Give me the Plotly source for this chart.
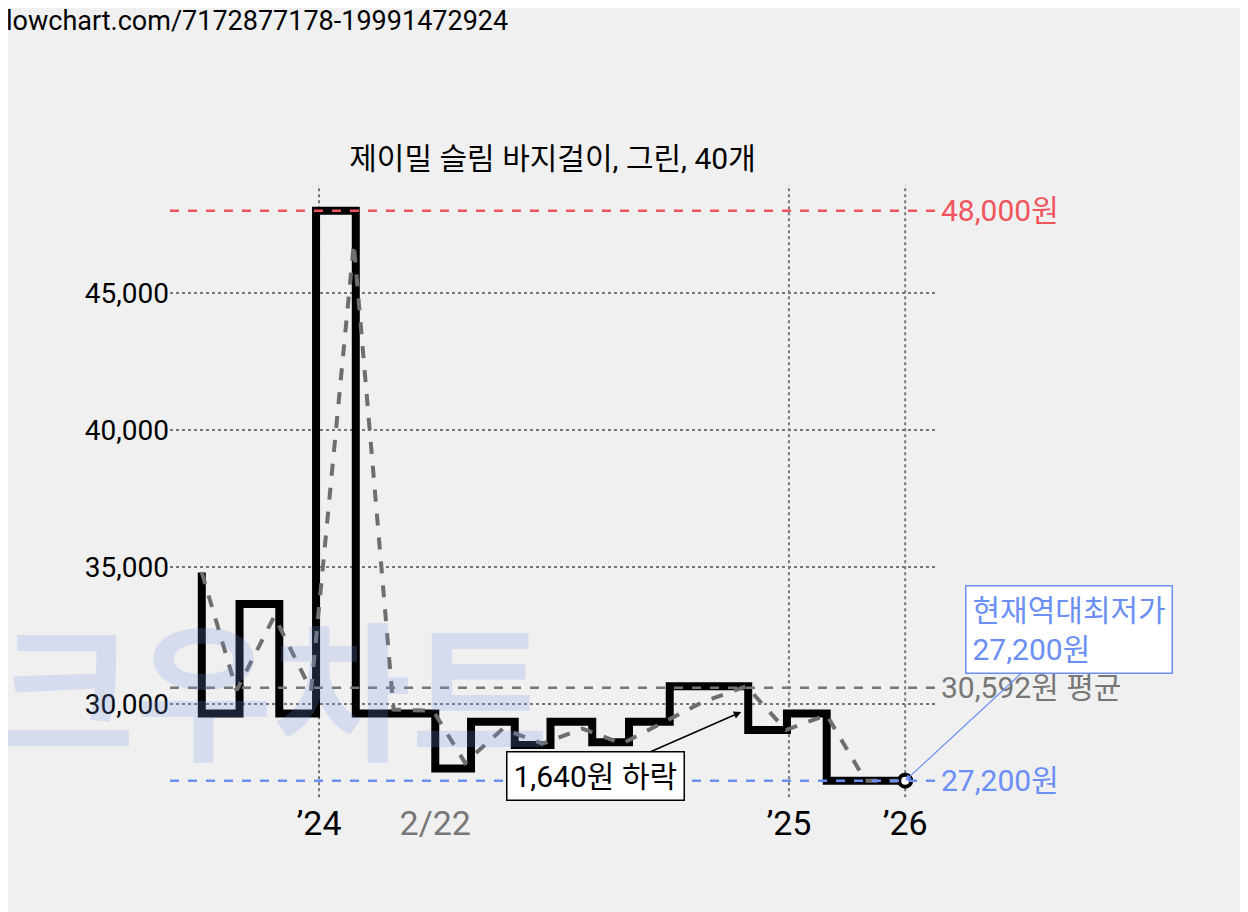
import plotly.graph_objects as go

# step price line (x in chart units, y in won)
step_x = [197,197,235,235,275,275,312,312,352,352,432,432,468,468,512,512,548,548,590,590,627,627,668,668,747,747,786,786,826,826,905]
step_y = [34800,29650,29650,33650,33650,29650,29650,48000,48000,29650,29650,27650,27650,29350,29350,28500,28500,29350,29350,28600,28600,29350,29350,30650,30650,29050,29050,29650,29650,27200,27200]
avg_x = [197,232,270,307,350,390,430,462,500,540,580,620,660,700,745,785,826,865,905]
avg_y = [34800,30500,33200,30500,46800,29800,29750,27850,29100,28550,29100,28550,29300,30050,30650,29050,29600,27200,27200]
max_price, min_price, mean_price = 48000, 27200, 30592
yticks = [30000, 35000, 40000, 45000]
xtick_vals = [315, 432, 788, 905]
xtick_text = ["’24", "<span style='color:#777'>2/22</span>", "’25", "’26"]
vgrid = [315, 788, 905]

fig = go.Figure()
for v in vgrid:
    fig.add_shape(type="line", x0=v, x1=v, y0=26600, y1=48950, line=dict(color="#777", width=2, dash="dot"), layer="below")
for v, c in [(max_price, "#f0545c"), (min_price, "#6b8ff5"), (mean_price, "#777")]:
    fig.add_shape(type="line", x0=165, x1=935, y0=v, y1=v, line=dict(color=c, width=2.5, dash="dash"))
fig.add_trace(go.Scatter(x=step_x, y=step_y, mode="lines", line=dict(color="black", width=8), hoverinfo="skip"))
fig.add_trace(go.Scatter(x=avg_x, y=avg_y, mode="lines", line=dict(color="#6e6e6e", width=4, dash="dash"), hoverinfo="skip"))
fig.add_trace(go.Scatter(x=[step_x[-1]], y=[step_y[-1]], mode="markers",
                         marker=dict(color="white", size=12, line=dict(color="black", width=4)), hoverinfo="skip"))

F = "Roboto, Noto Sans CJK KR"
fig.add_annotation(x=0.0, y=30000, xref="paper", yref="y", text="<b>크우차트</b>", showarrow=False,
                   font=dict(size=150, color="rgba(120,150,230,0.22)", family="Noto Sans CJK KR"),
                   xanchor="left", yanchor="middle", xshift=-175, yshift=20)
for v, t, c in [(max_price, "48,000원", "#f0545c"), (min_price, "27,200원", "#6b8ff5"), (mean_price, "30,592원 평균", "#777")]:
    fig.add_annotation(x=1.0, xref="paper", y=v, text=t, showarrow=False, xanchor="left", xshift=4,
                       font=dict(size=30, color=c, family=F))
fig.add_annotation(x=905, y=min_price, ax=1070, ay=32737, axref="x", ayref="y",
                   text="현재역대최저가<br>27,200원", showarrow=True, arrowhead=2, arrowcolor="#6b8ff5", arrowwidth=1.2,
                   align="left", bgcolor="white", bordercolor="#6b8ff5", borderwidth=1.5, borderpad=6,
                   font=dict(size=30, color="#6b8ff5", family=F))
fig.add_annotation(x=740, y=29708, ax=593, ay=27372, axref="x", ayref="y",
                   text="1,640원 하락", showarrow=True, arrowhead=2, arrowcolor="black", arrowwidth=1.5,
                   bgcolor="white", bordercolor="black", borderwidth=1.5, borderpad=6,
                   font=dict(size=30, color="black", family=F))
fig.add_annotation(x=0, y=1, xref="paper", yref="paper", text="lowchart.com/7172877178-19991472924", showarrow=False,
                   xanchor="left", yanchor="top", xshift=-166, yshift=182, font=dict(size=27, color="black", family=F))

fig.update_layout(
    width=1248, height=912, paper_bgcolor="#f0f0f0", plot_bgcolor="#f0f0f0", showlegend=False,
    margin=dict(l=162, r=321, t=177, b=120),
    title=dict(text="제이밀 슬림 바지걸이, 그린, 40개", x=0.5, xref="paper", y=0.835, yanchor="middle",
               font=dict(size=30, color="black", family=F)),
    xaxis=dict(range=[165, 935], showgrid=False, zeroline=False, tickvals=xtick_vals, ticktext=xtick_text,
               ticks="", tickfont=dict(size=34, color="black", family=F), showline=False),
    yaxis=dict(range=[26496, 48942], tickvals=yticks, ticktext=[f"{v:,}" for v in yticks], showgrid=True,
               gridcolor="#777", griddash="dot", gridwidth=2, zeroline=False, ticks="",
               tickfont=dict(size=28, color="black", family=F)),
)
fig.write_html("out.html")
